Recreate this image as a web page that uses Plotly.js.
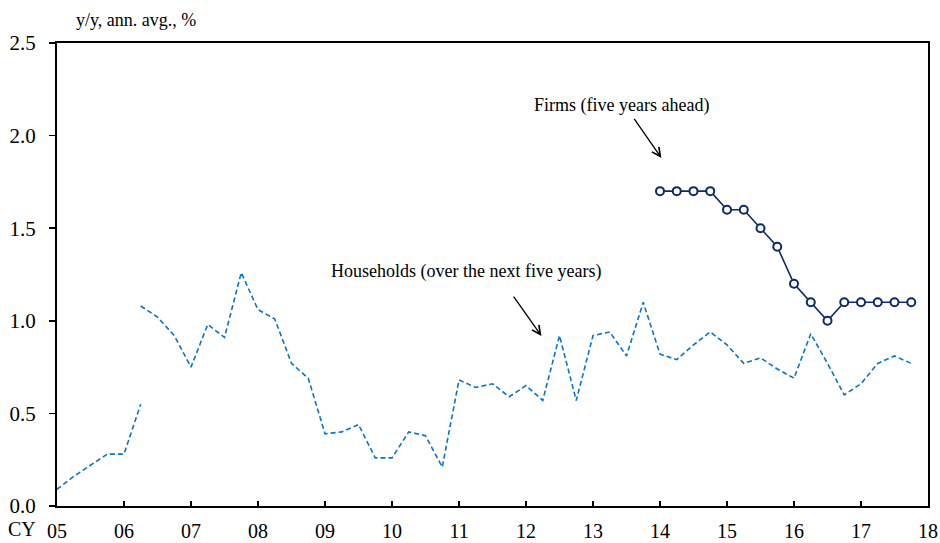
<!DOCTYPE html>
<html>
<head>
<meta charset="utf-8">
<script src="https://cdn.plot.ly/plotly-3.0.1.min.js"></script>
<style>html,body{margin:0;padding:0;background:#fff;}#chart{width:940px;height:543px;}</style>
</head>
<body>
<div id="chart"></div>
<script>
// Quarterly data (x in calendar years, quarter start = year + 0, .25, .5, .75)
const hhOldStart = 2005.0;
const householdsOld = [0.09, 0.16, 0.22, 0.28, 0.28, 0.55];
const hhNewStart = 2006.25;
const householdsNew = [1.08, 1.02, 0.92,
  0.75, 0.98, 0.91, 1.26,
  1.06, 1.01, 0.77, 0.69,
  0.39, 0.40, 0.44, 0.26,
  0.26, 0.40, 0.38, 0.21,
  0.68, 0.64, 0.66, 0.59,
  0.65, 0.57, 0.92, 0.57,
  0.92, 0.94, 0.81, 1.10,
  0.82, 0.79, 0.87, 0.94,
  0.87, 0.77, 0.80, 0.74,
  0.69, 0.93, 0.77, 0.60,
  0.66, 0.77, 0.81, 0.77];
const firmsStart = 2014.0;
const firms = [1.7, 1.7, 1.7, 1.7, 1.6, 1.6, 1.5, 1.4, 1.2, 1.1, 1.0, 1.1, 1.1, 1.1, 1.1, 1.1];
const yearTicks = [2005, 2006, 2007, 2008, 2009, 2010, 2011, 2012, 2013, 2014, 2015, 2016, 2017, 2018];
const yearLabels = ["05", "06", "07", "08", "09", "10", "11", "12", "13", "14", "15", "16", "17", "18"];
const yTicks = [0, 0.5, 1.0, 1.5, 2.0, 2.5];

const quarters = (start, n) => Array.from({length: n}, (_, i) => start + i * 0.25);

const FONT = "'Liberation Serif', 'DejaVu Serif', serif";
const hhColor = "#0a72c8";
const firmColor = "#0b2a6b";

const traces = [
  {x: quarters(hhOldStart, householdsOld.length), y: householdsOld, type: "scatter", mode: "lines",
   line: {color: hhColor, width: 1.6, dash: "5px,3px"}},
  {x: quarters(hhNewStart, householdsNew.length), y: householdsNew, type: "scatter", mode: "lines",
   line: {color: hhColor, width: 1.6, dash: "5px,3px"}},
  {x: quarters(firmsStart, firms.length), y: firms, type: "scatter", mode: "lines+markers",
   line: {color: firmColor, width: 1.6},
   marker: {symbol: "circle", size: 8, color: "#ffffff", line: {color: firmColor, width: 2}}}
];

const layout = {
  width: 940, height: 543,
  margin: {l: 57, r: 12, t: 43, b: 37},
  paper_bgcolor: "#ffffff", plot_bgcolor: "#ffffff",
  showlegend: false,
  font: {family: FONT, size: 18, color: "#000"},
  xaxis: {
    range: [2005, 2018], tickvals: yearTicks, ticktext: yearLabels,
    ticks: "inside", ticklen: 5, tickwidth: 1.5, tickcolor: "#000",
    showline: true, linecolor: "#000", linewidth: 2, mirror: true,
    showgrid: false, zeroline: false,
    tickfont: {family: FONT, size: 20, color: "#000"}, ticklabelstandoff: 6
  },
  yaxis: {
    range: [0, 2.5], tickvals: yTicks, ticktext: yTicks.map(v => v.toFixed(1)),
    ticks: "outside", ticklen: 6, tickwidth: 1.5, tickcolor: "#000",
    showline: true, linecolor: "#000", linewidth: 2, mirror: true,
    showgrid: false, zeroline: false,
    tickfont: {family: FONT, size: 21, color: "#000"}, ticklabelstandoff: 9
  },
  annotations: [
    {xref: "paper", yref: "paper", x: 0.091, y: 1.05, text: "y/y, ann. avg., %", showarrow: false,
     xanchor: "center", yanchor: "middle", font: {family: FONT, size: 18}},
    {xref: "paper", yref: "paper", x: -0.040, y: -0.050, text: "CY", showarrow: false,
     xanchor: "center", yanchor: "middle", font: {family: FONT, size: 20}},
    {xref: "x", yref: "y", x: 2013.43, y: 2.165, text: "Firms (five years ahead)", showarrow: false,
     xanchor: "center", yanchor: "middle", font: {family: FONT, size: 18}},
    {xref: "x", yref: "y", x: 2014.02, y: 1.879, ax: 2013.60, ay: 2.099, axref: "x", ayref: "y",
     text: "", showarrow: true, arrowhead: 5, arrowsize: 1.3, arrowwidth: 1.3, arrowcolor: "#000"},
    {xref: "x", yref: "y", x: 2011.11, y: 1.265, text: "Households (over the next five years)", showarrow: false,
     xanchor: "center", yanchor: "middle", font: {family: FONT, size: 18}},
    {xref: "x", yref: "y", x: 2012.23, y: 0.918, ax: 2011.80, ay: 1.139, axref: "x", ayref: "y",
     text: "", showarrow: true, arrowhead: 5, arrowsize: 1.3, arrowwidth: 1.3, arrowcolor: "#000"}
  ]
};

Plotly.newPlot("chart", traces, layout, {displayModeBar: false, staticPlot: true});
</script>
</body>
</html>
